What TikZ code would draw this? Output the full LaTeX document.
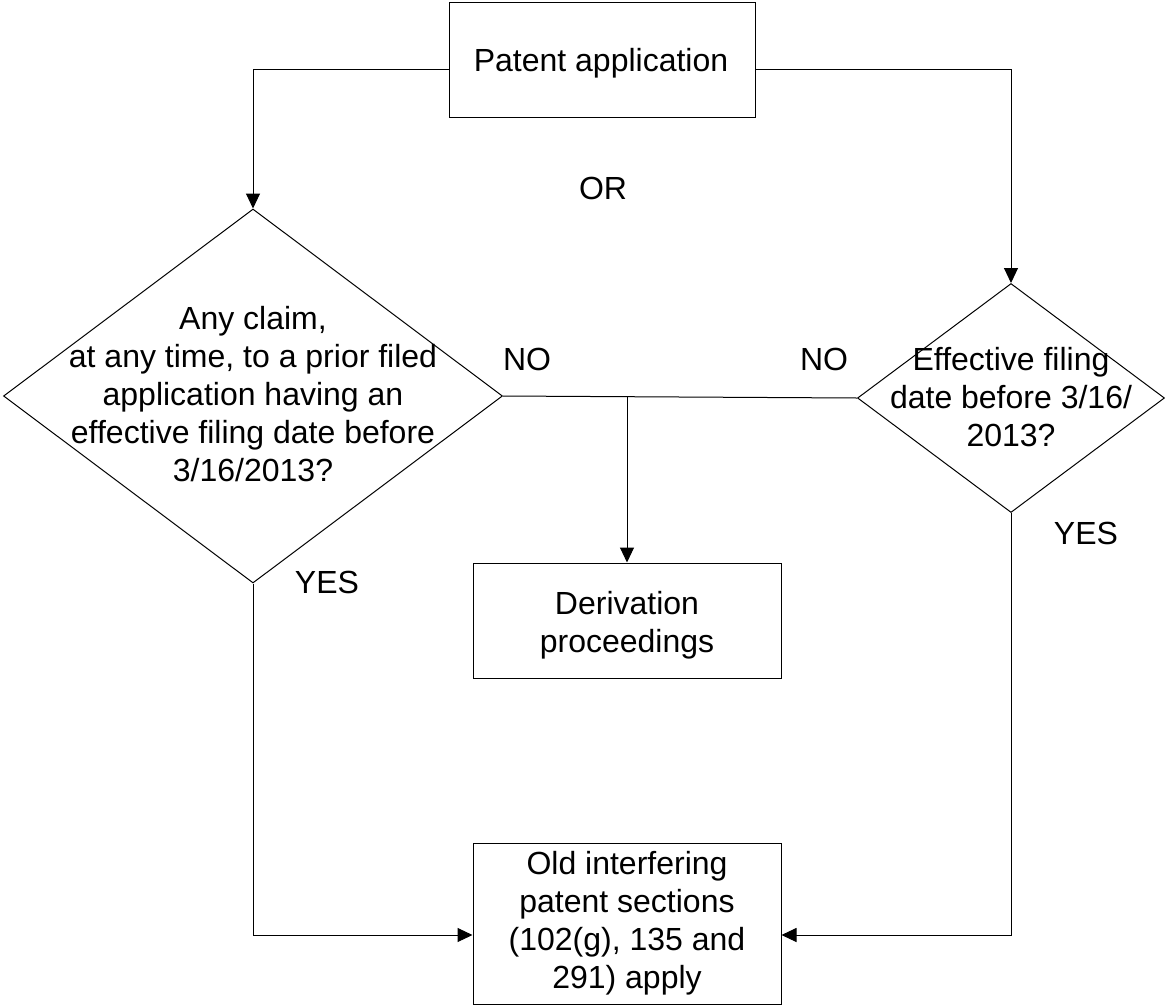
\documentclass[tikz,border=0pt]{standalone}
\usepackage{fontspec}
\setmainfont{Liberation Sans}
\usetikzlibrary{shapes.geometric,arrows.meta}
\begin{document}
\begin{tikzpicture}[x=1pt,y=-1pt,
  every node/.style={font=\fontsize{32}{38}\selectfont, align=center, inner sep=0pt},
  box/.style={draw, line width=1pt, rectangle},
  decision/.style={draw, line width=1pt, diamond},
  conn/.style={line width=1pt},
  arr/.style={line width=1pt, -{Triangle[length=15pt,width=14pt]}}
]
\useasboundingbox (0,0) rectangle (1165,1007);

\node[box, minimum width=306pt, minimum height=115pt] (pa) at (602,60) {};
\node (pat) at (601,63) {Patent application};

\node[decision, minimum width=499pt, minimum height=374pt] (q1) at (253,396) {};
\node (q1t) at (253,394) {Any claim,\\at any time, to a prior filed\\application having an\\effective filing date before\\3/16/2013?};

\node[decision, minimum width=307pt, minimum height=229pt] (q2) at (1011,398) {};
\node (q2t) at (1011,397) {Effective filing\\date before 3/16/\\2013?};

\node[box, minimum width=308pt, minimum height=115pt] (der) at (627,620.5) {};
\node (dert) at (627,625) {Derivation\\proceedings};
\node[box, minimum width=308pt, minimum height=161pt] (old) at (627,923.5) {Old interfering\\patent sections\\(102(g), 135 and\\291) apply};

\node (or) at (603,188) {OR};
\node (no1) at (527,359) {NO};
\node (no2) at (824,359) {NO};
\node (yes1) at (327,582) {YES};
\node (yes2) at (1086,533) {YES};

\draw[arr] ([yshift=-9pt]pa.west) -| (q1.north);
\draw[arr] ([yshift=-9pt]pa.east) -| (q2.north);
\draw[conn] (q1.east) -- (q2.west);
\draw[arr] (der.north |- q1.east) -- (der.north);
\draw[arr] (q1.south) |- ([yshift=-11.5pt]old.west);
\draw[arr] (q2.south) |- ([yshift=-11.5pt]old.east);
\end{tikzpicture}
\end{document}
